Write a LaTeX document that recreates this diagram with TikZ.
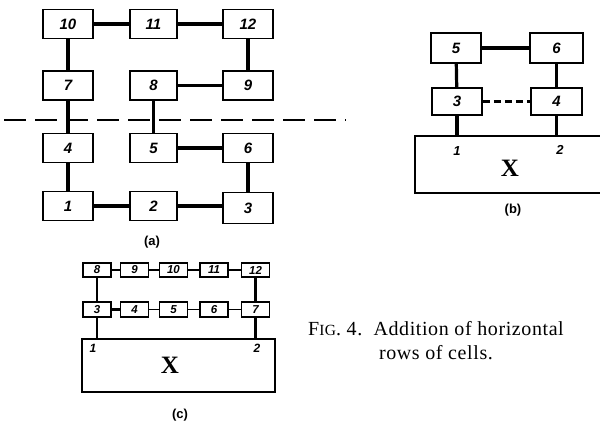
\documentclass[tikz,border=0pt]{standalone}
\usepackage{fontspec}
\setmainfont{Liberation Serif}
\newfontfamily\numfont{Liberation Sans}
\begin{document}
\begin{tikzpicture}[x=1pt,y=-1pt,
  cell/.style={draw, line width=1.8pt, inner sep=0pt, font=\numfont\bfseries\itshape\fontsize{15}{15}\selectfont},
  bigcell/.style={cell, minimum width=50pt, minimum height=29pt},
  midcell/.style={cell, minimum width=47pt, minimum height=29pt},
  smallcell/.style={cell, line width=1.5pt, minimum width=28pt, minimum height=14pt, font=\numfont\bfseries\itshape\fontsize{11.5}{11.5}\selectfont},
  link/.style={line width=3.2pt},
  slink/.style={line width=2.6pt},
  tlink/.style={line width=1.6pt},
  xbox/.style={draw, line width=1.5pt, inner sep=0pt},
  xmark/.style={font=\bfseries\fontsize{25}{25}\selectfont},
  lab/.style={font=\numfont\bfseries\itshape\fontsize{13}{13}\selectfont},
  sub/.style={font=\numfont\bfseries\fontsize{13}{13}\selectfont}]
\clip (0,0) rectangle (600,428);
% ---------- (a)
\node[bigcell] (a10) at (68,24) {10};
\node[midcell] (a11) at (153.5,24) {11};
\node[bigcell] (a12) at (248,24) {12};
\node[bigcell] (a7) at (68,85.5) {7};
\node[midcell] (a8) at (153.5,85.5) {8};
\node[bigcell] (a9) at (248,85.5) {9};
\node[bigcell] (a4) at (68,148) {4};
\node[midcell] (a5) at (153.5,148) {5};
\node[bigcell] (a6) at (248,148) {6};
\node[bigcell] (a1) at (68,206) {1};
\node[midcell] (a2) at (153.5,206) {2};
\node[bigcell, minimum height=31pt] (a3) at (248,208) {3};
\draw[link] (a10) -- (a11);
\draw[link] (a11) -- (a12);
\draw[link] (a10) -- (a7);
\draw[link] (a12) -- (a9);
\draw[link] (a7) -- (a4);
\draw[link] (a8) -- (a9);
\draw[link] (a8) -- (a5);
\draw[link] (a5) -- (a6);
\draw[link] (a4) -- (a1);
\draw[link] (a6) -- (a3.north -| a6);
\draw[link] (a1) -- (a2);
\draw[link] (a2) -- (a3.west |- a2);
\coordinate (dl) at (4,120);
\coordinate (dr) at (346,120);
\draw[line width=1.4pt, dash pattern=on 22pt off 9pt] (dl) -- (dr);
\node[sub] (capa) at (152,242) {(a)};
% ---------- (b)
\node[bigcell, minimum height=30pt] (b5) at (456,48) {5};
\node[bigcell, minimum width=53pt, minimum height=30pt] (b6) at (556.5,48) {6};
\node[bigcell, minimum height=27pt] (b3) at (457,101.5) {3};
\node[bigcell, minimum width=51pt, minimum height=27pt] (b4) at (556.5,101.5) {4};
\node[xbox, minimum width=190pt, minimum height=57pt] (bX) at (510,164.5) {};
\node[xmark] (bXt) at (510,168) {X};
\draw[link] (b5) -- (b6);
\draw[link] (b5) -- (b3);
\draw[link] (b6) -- (b4);
\draw[line width=2.2pt, dash pattern=on 7pt off 4pt] (b3) -- (b4);
\draw[link] (b3) -- (b3 |- bX.north);
\draw[link] (b4) -- (b4 |- bX.north);
\node[lab] (b1l) at (457,151) {1};
\node[lab] (b2l) at (560,150) {2};
\node[sub] (capb) at (513,210) {(b)};
% ---------- (c)
\node[smallcell] (c8) at (97,270) {8};
\node[smallcell] (c9) at (134.5,270) {9};
\node[smallcell] (c10) at (173.5,270) {10};
\node[smallcell] (c11) at (214,270) {11};
\node[smallcell] (c12) at (255.5,270) {12};
\node[smallcell, minimum height=15pt] (c3) at (97,309.5) {3};
\node[smallcell, minimum height=15pt] (c4) at (134.5,309.5) {4};
\node[smallcell, minimum height=15pt] (c5) at (173.5,309.5) {5};
\node[smallcell, minimum height=15pt] (c6) at (214,309.5) {6};
\node[smallcell, minimum height=15pt] (c7) at (255.5,309.5) {7};
\node[xbox, minimum width=193pt, minimum height=53pt] (cX) at (178.5,365.5) {};
\node[xmark] (cXt) at (170,365) {X};
\draw[slink] (c8) -- (c9);
\draw[tlink] (c9) -- (c10);
\draw[slink] (c10) -- (c11);
\draw[slink] (c11) -- (c12);
\draw[slink] (c3) -- (c4);
\draw[tlink] (c4) -- (c5);
\draw[tlink] (c5) -- (c6);
\draw[tlink] (c6) -- (c7);
\draw[slink] (c8) -- (c3);
\draw[slink] (c12) -- (c7);
\draw[slink] (c3) -- (c3 |- cX.north);
\draw[slink] (c7) -- (c7 |- cX.north);
\node[lab, font=\numfont\bfseries\itshape\fontsize{12}{12}\selectfont] (c1l) at (93,348) {1};
\node[lab, font=\numfont\bfseries\itshape\fontsize{12}{12}\selectfont] (c2l) at (257,348) {2};
\node[sub] (capc) at (180,415) {(c)};
% ---------- caption
\node[align=center, font=\fontsize{20}{24}\selectfont\addfontfeatures{LetterSpace=3}] (fig) at (436,341)
  {F{\fontsize{15.5}{15.5}\selectfont IG}. 4.\ \ Addition of horizontal\\ rows of cells.};
\end{tikzpicture}
\end{document}
